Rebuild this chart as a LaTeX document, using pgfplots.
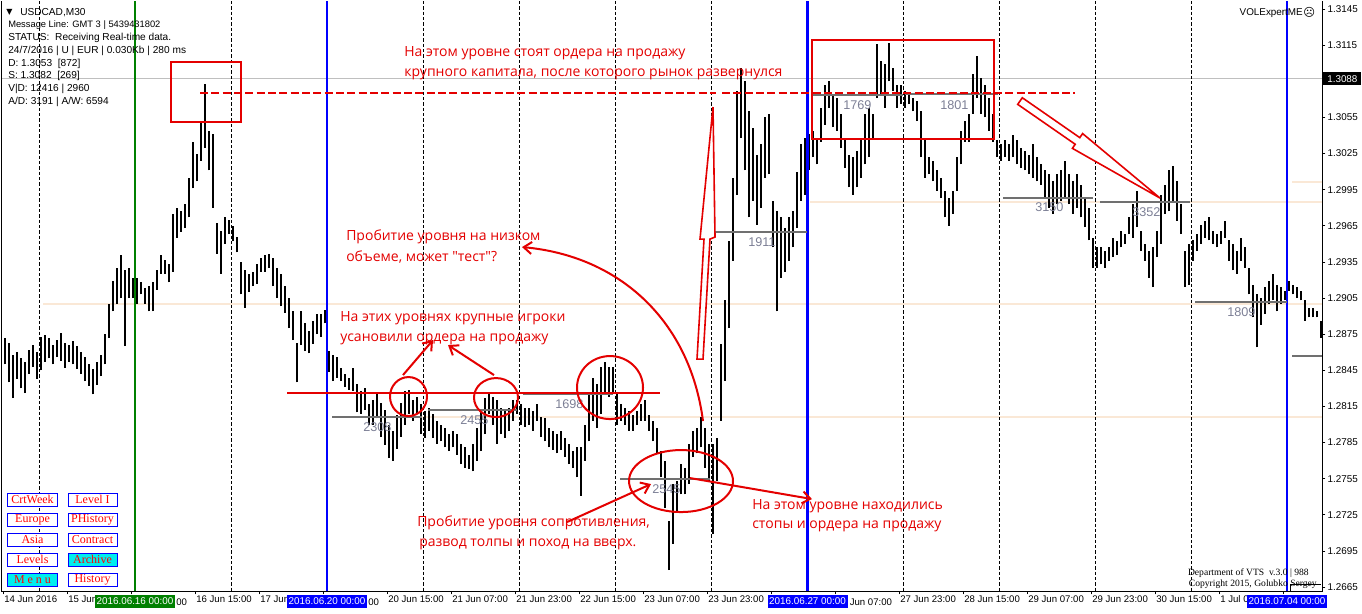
\documentclass[border=0pt]{standalone}
\usepackage{fontspec}
\setmainfont{Liberation Sans}
\newfontfamily\annfont{Open Sans}
\newfontfamily\serfont{Liberation Serif}
\newfontfamily\symfont{DejaVu Sans}
\usepackage{pgfplots}
\usepackage{pgfplotstable}
\pgfplotsset{compat=1.18}
\usetikzlibrary{arrows.meta}
\definecolor{annred}{RGB}{228,0,0}
\definecolor{mtblue}{RGB}{0,0,255}
\definecolor{mtgreen}{RGB}{0,128,0}
\definecolor{beige}{RGB}{250,232,214}
\definecolor{lvlgray}{RGB}{112,112,112}
\definecolor{lvltext}{RGB}{125,128,150}
\definecolor{btncyan}{RGB}{0,238,238}
\newcommand\fs[1]{\fontsize{#1}{#1}\selectfont}

% hourly bars: h = trading hours from 2016.06.20 00:00, low, high
\pgfplotstableread{
h lo hi
-81 1.2850 1.2872
-80 1.2835 1.2868
-79 1.2822 1.2858
-78 1.2838 1.2860
-77 1.2830 1.2855
-76 1.2826 1.2852
-75 1.2842 1.2862
-74 1.2848 1.2866
-73 1.2838 1.2860
-72 1.2845 1.2873
-71 1.2852 1.2874
-70 1.2855 1.2872
-69 1.2850 1.2866
-68 1.2856 1.2870
-67 1.2853 1.2876
-66 1.2847 1.2868
-65 1.2852 1.2866
-64 1.2850 1.2869
-63 1.2846 1.2865
-62 1.2842 1.2860
-61 1.2836 1.2856
-60 1.2832 1.2850
-59 1.2825 1.2846
-58 1.2833 1.2852
-57 1.2840 1.2858
-56 1.2850 1.2875
-55 1.2872 1.2900
-54 1.2894 1.2919
-53 1.2900 1.2930
-52 1.2905 1.2941
-51 1.2865 1.2928
-50 1.2905 1.2930
-49 1.2905 1.2922
-48 1.2900 1.2922
-47 1.2908 1.2918
-46 1.2900 1.2913
-45 1.2894 1.2915
-44 1.2894 1.2918
-43 1.2912 1.2928
-42 1.2925 1.2941
-41 1.2925 1.2937
-40 1.2918 1.2933
-39 1.2927 1.2975
-38 1.2955 1.2980
-37 1.2960 1.2977
-36 1.2963 1.2983
-35 1.2972 1.3005
-34 1.2996 1.3035
-33 1.3002 1.3025
-32 1.3019 1.3052
-31 1.3030 1.3083
-30 1.3011 1.3044
-29 1.2980 1.3041
-28 1.2942 1.2967
-27 1.2925 1.2961
-26 1.2950 1.2972
-25 1.2958 1.2970
-24 1.2952 1.2965
-23 1.2943 1.2956
-22 1.2908 1.2935
-21 1.2897 1.2928
-20 1.2910 1.2925
-19 1.2915 1.2927
-18 1.2917 1.2933
-17 1.2927 1.2938
-16 1.2927 1.2941
-15 1.2930 1.2942
-14 1.2915 1.2938
-13 1.2905 1.2930
-12 1.2898 1.2925
-11 1.2893 1.2915
-10 1.2880 1.2905
-9 1.2870 1.2894
-8 1.2835 1.2868
-7 1.2866 1.2894
-6 1.2861 1.2884
-5 1.2859 1.2878
-4 1.2867 1.2886
-3 1.2875 1.2892
-2 1.2873 1.2892
-1 1.2884 1.2895
0 1.2844 1.2861
1 1.2836 1.2858
2 1.2839 1.2856
3 1.2836 1.2847
4 1.2831 1.2842
5 1.2829 1.2839
6 1.2828 1.2847
7 1.2810 1.2834
8 1.2809 1.2828
9 1.2812 1.2830
10 1.2800 1.2817
11 1.2800 1.2820
12 1.2805 1.2826
13 1.2790 1.2818
14 1.2783 1.2812
15 1.2772 1.2800
16 1.2770 1.2795
17 1.2780 1.2808
18 1.2790 1.2818
19 1.2800 1.2828
20 1.2809 1.2829
21 1.2803 1.2820
22 1.2809 1.2823
23 1.2792 1.2817
24 1.2789 1.2811
25 1.2795 1.2814
26 1.2789 1.2809
27 1.2784 1.2803
28 1.2786 1.2800
29 1.2781 1.2797
30 1.2778 1.2792
31 1.2781 1.2795
32 1.2775 1.2792
33 1.2767 1.2784
34 1.2764 1.2781
35 1.2763 1.2775
36 1.2761 1.2784
37 1.2770 1.2797
38 1.2778 1.2811
39 1.2792 1.2822
40 1.2809 1.2827
41 1.2800 1.2823
42 1.2784 1.2820
43 1.2792 1.2814
44 1.2789 1.2811
45 1.2795 1.2814
46 1.2803 1.2820
47 1.2809 1.2820
48 1.2800 1.2817
49 1.2798 1.2814
50 1.2800 1.2814
51 1.2795 1.2811
52 1.2803 1.2817
53 1.2790 1.2806
54 1.2786 1.2805
55 1.2781 1.2797
56 1.2779 1.2795
57 1.2776 1.2792
58 1.2779 1.2795
59 1.2773 1.2789
60 1.2767 1.2784
61 1.2764 1.2778
62 1.2756 1.2781
63 1.2741 1.2781
64 1.2770 1.2800
65 1.2786 1.2825
66 1.2803 1.2839
67 1.2797 1.2834
68 1.2809 1.2848
69 1.2825 1.2852
70 1.2823 1.2848
71 1.2825 1.2848
72 1.2800 1.2825
73 1.2803 1.2817
74 1.2800 1.2814
75 1.2795 1.2811
76 1.2795 1.2808
77 1.2800 1.2811
78 1.2803 1.2817
79 1.2803 1.2820
80 1.2795 1.2808
81 1.2786 1.2803
82 1.2776 1.2797
83 1.2756 1.2778
84 1.2731 1.2770
85 1.2679 1.2720
86 1.2701 1.2751
87 1.2728 1.2753
88 1.2742 1.2767
89 1.2742 1.2764
90 1.2751 1.2784
91 1.2773 1.2795
92 1.2776 1.2797
93 1.2781 1.2806
94 1.2764 1.2797
95 1.2753 1.2784
96 1.2709 1.2784
97 1.2753 1.2789
98 1.2803 1.2867
99 1.2836 1.2903
100 1.2880 1.2952
101 1.2936 1.3005
102 1.2991 1.3077
103 1.3038 1.3096
104 1.3011 1.3085
105 1.2972 1.3060
106 1.2986 1.3046
107 1.2966 1.3024
108 1.2980 1.3033
109 1.3005 1.3055
110 1.3008 1.3058
111 1.2947 1.2986
112 1.2894 1.2977
113 1.2922 1.2972
114 1.2927 1.2963
115 1.2936 1.2972
116 1.2947 1.2977
117 1.2963 1.3010
118 1.2986 1.3033
119 1.2991 1.3038
120 1.3011 1.3041
121 1.3022 1.3044
122 1.3016 1.3038
123 1.3035 1.3063
124 1.3049 1.3082
125 1.3063 1.3085
126 1.3047 1.3074
127 1.3044 1.3071
128 1.3030 1.3058
129 1.3013 1.3038
130 1.2997 1.3024
131 1.2991 1.3022
132 1.2997 1.3027
133 1.3005 1.3038
134 1.3016 1.3058
135 1.3022 1.3063
136 1.3038 1.3058
137 1.3071 1.3116
138 1.3074 1.3102
139 1.3063 1.3099
140 1.3085 1.3117
141 1.3077 1.3096
142 1.3063 1.3082
143 1.3066 1.3082
144 1.3063 1.3077
145 1.3066 1.3074
146 1.3060 1.3071
147 1.3052 1.3069
148 1.3022 1.3060
149 1.3005 1.3038
150 1.3008 1.3022
151 1.3002 1.3019
152 1.2994 1.3011
153 1.2988 1.3005
154 1.2972 1.2994
155 1.2965 1.2988
156 1.2975 1.2994
157 1.2994 1.3022
158 1.3016 1.3044
159 1.3035 1.3052
160 1.3035 1.3058
161 1.3058 1.3091
162 1.3071 1.3106
163 1.3058 1.3088
164 1.3055 1.3082
165 1.3044 1.3071
166 1.3035 1.3058
167 1.3022 1.3036
168 1.3019 1.3033
169 1.3022 1.3036
170 1.3019 1.3033
171 1.3022 1.3040
172 1.3016 1.3036
173 1.3013 1.3030
174 1.3011 1.3027
175 1.3008 1.3024
176 1.3005 1.3033
177 1.3002 1.3022
178 1.2999 1.3016
179 1.2988 1.3011
180 1.2980 1.3008
181 1.2975 1.3002
182 1.2983 1.3008
183 1.2986 1.3011
184 1.2988 1.3019
185 1.2983 1.3008
186 1.2975 1.3002
187 1.2980 1.3008
188 1.2972 1.2999
189 1.2964 1.2988
190 1.2953 1.2980
191 1.2930 1.2955
192 1.2930 1.2947
193 1.2933 1.2947
194 1.2930 1.2944
195 1.2936 1.2947
196 1.2939 1.2955
197 1.2941 1.2952
198 1.2947 1.2961
199 1.2950 1.2958
200 1.2958 1.2972
201 1.2955 1.2983
202 1.2964 1.2994
203 1.2944 1.2961
204 1.2936 1.2950
205 1.2922 1.2944
206 1.2914 1.2947
207 1.2939 1.2961
208 1.2950 1.2991
209 1.2975 1.2999
210 1.2977 1.3011
211 1.2986 1.3015
212 1.2969 1.3002
213 1.2958 1.2983
214 1.2914 1.2944
215 1.2916 1.2950
216 1.2936 1.2953
217 1.2944 1.2958
218 1.2950 1.2966
219 1.2955 1.2969
220 1.2953 1.2972
221 1.2950 1.2961
222 1.2947 1.2958
223 1.2950 1.2961
224 1.2955 1.2969
225 1.2936 1.2953
226 1.2928 1.2950
227 1.2925 1.2944
228 1.2936 1.2955
229 1.2930 1.2947
230 1.2908 1.2930
231 1.2889 1.2916
232 1.2864 1.2908
233 1.2883 1.2905
234 1.2892 1.2914
235 1.2900 1.2919
236 1.2903 1.2925
237 1.2894 1.2916
238 1.2900 1.2914
239 1.2903 1.2911
240 1.2911 1.2919
241 1.2908 1.2916
242 1.2905 1.2914
243 1.2903 1.2911
244 1.2886 1.2903
245 1.2889 1.2897
246 1.2889 1.2897
247 1.2889 1.2894
248 1.2872 1.2886
}\bars

\begin{document}
\begin{tikzpicture}
% pixel frame of the terminal window: (x,y) = screen pixels
\begin{scope}[x=0.75pt,y=-0.75pt,shift={(-1.5pt,442.5pt)}]
\path[use as bounding box, fill=white] (0,0) rectangle (1362,612);
% support/resistance shading lines
\draw[beige, line width=1.5pt] (43,302.5) -- (1322,302.5);
\draw[beige, line width=1.5pt] (332,416) -- (1322,416);
\draw[beige, line width=1.5pt] (810,200.5) -- (1322,200.5);
\draw[beige, line width=1.5pt] (1292,181) -- (1322,181);
\draw[black!25, line width=0.75pt] (2,77.5) -- (1322,77.5);
% day separators
\foreach \px in {39,231,423,519,615,711,903,999,1095,1191}
  \draw[black, line width=0.75pt, dash pattern=on 2.5pt off 1.5pt] (\px,0) -- (\px,590);
\end{scope}

\begin{axis}[
  scale only axis, width=990pt, height=442.5pt,
  xmin=-81.25, xmax=248.75, ymin=1.266169, ymax=1.315164,
  axis line style={draw=none},
  xtick pos=bottom, ytick pos=right, yticklabel pos=right,
  tick align=outside, major tick length=2.5pt,
  tick style={black, line width=0.6pt},
  scaled y ticks=false,
  ytick={1.2665,1.2695,1.2725,1.2755,1.2785,1.2815,1.2845,1.2875,1.2905,1.2935,1.2965,1.2995,1.3025,1.3055,1.3115,1.3145},
  yticklabel style={/pgf/number format/.cd, fixed, fixed zerofill, precision=4, assume math mode=true, /tikz/.cd, font=\fs{7.4}, anchor=west, inner sep=0pt, xshift=1.5pt},
  xtick={-81,-65,-49,-33,-17,-1,15,31,47,63,79,95,111,127,143,159,175,191,207,223,239},
  xticklabels={{14 Jun 2016},{15 Jun},{},{16 Jun 15:00},{17 Jun},{},{20 Jun 15:00},{21 Jun 07:00},{21 Jun 23:00},{22 Jun 15:00},{23 Jun 07:00},{23 Jun 23:00},{},{},{27 Jun 23:00},{28 Jun 15:00},{29 Jun 07:00},{29 Jun 23:00},{30 Jun 15:00},{1 Jul 0},{}},
  xticklabel style={font=\fs{7.2}, anchor=north west, inner sep=0pt, xshift=0.8pt, yshift=-1pt},
]
\addplot[black, line width=1.25pt, quiver={u=0, v=\thisrow{hi}-\thisrow{lo}}]
  table[x expr=\thisrow{h}+0.5, y=lo] {\bars};
\end{axis}

\begin{scope}[x=0.75pt,y=-0.75pt,shift={(-1.5pt,442.5pt)}]
% frame
\draw[black, line width=0.75pt] (2,0) -- (2,590) -- (1322,590) -- (1322,0);
% week / session lines
\draw[mtgreen, line width=1.6pt] (135,0) -- (135,590);
\foreach \px in {327,807.5,1287}
  \draw[mtblue, line width=1.6pt] (\px,0) -- (\px,590);
% volume levels
\foreach \a/\b/\yy in {332/422/415.5, 428/517/409, 523/613/393, 620/710/478, 715/807/231, 812/903/94, 905/998/93, 1003/1093/197, 1100/1190/200.5, 1195/1287/301, 1292/1322/355}
  \draw[lvlgray, line width=1.5pt] (\a,\yy) -- (\b,\yy);
\foreach \xx/\yy/\t in {363/430/2308, 460/423/2455, 555/407/1698, 652/492/2545, 748/245/1911, 843/108/1769, 940/108/1801, 1035/210/3150, 1132/215/3352, 1227/315/1809}
  \node[anchor=base west, inner sep=0pt, text=lvltext, font=\fs{9.5}] at (\xx,\yy) {\t};
% header text
\node[anchor=base west, inner sep=0pt, font=\symfont\fs{6}] at (6,13) {▼};
\node[anchor=base west, inner sep=0pt, font=\fs{7.6}] at (20,14) {USDCAD,M30};
\node[anchor=base west, inner sep=0pt, font=\fs{7}] at (8,26.5) {Message Line: GMT 3 | 5439431802};
\node[anchor=base west, inner sep=0pt, font=\fs{7.6}] at (8,39) {STATUS:\ \ Receiving Real-time data.};
\node[anchor=base west, inner sep=0pt, font=\fs{7.6}] at (8,52) {24/7/2016 | U | EUR | 0.030Kb | 280 ms};
\node[anchor=base west, inner sep=0pt, font=\fs{7.6}] at (8,65) {D: 1.3053\ \ [872]};
\node[anchor=base west, inner sep=0pt, font=\fs{7.6}] at (8,77.5) {S: 1.3082\ \ [269]};
\node[anchor=base west, inner sep=0pt, font=\fs{7.6}] at (8,90.5) {V|D: 12416 | 2960};
\node[anchor=base west, inner sep=0pt, font=\fs{7.6}] at (8,103) {A/D: 3191 | A/W: 6594};
\node[anchor=base east, inner sep=0pt, font=\fs{7.4}] at (1303,14) {VOLExpertME};
\node[anchor=base west, inner sep=0pt, font=\symfont\fs{8.5}] at (1303,15) {☹};
% current price
\fill[black] (1323,71) rectangle (1361,84);
\node[anchor=base west, inner sep=0pt, text=white, font=\fs{7.4}] at (1327,81.5) {1.3088};
% copyright
\node[anchor=base east, inner sep=0pt, font=\serfont\fs{7.2}] at (1309,574) {Department of VTS\ \ v.3.0 | 988};
\node[anchor=base east, inner sep=0pt, font=\serfont\fs{7.2}] at (1317,585) {Copyright 2015, Golubko Sergey};
\draw[black, line width=0.5pt] (1290,583) -- (1290,590) (1290,583) -- (1321,583);
% menu buttons
\foreach \xx/\yy/\t/\c in {8/492/CrtWeek/white, 68/492/Level I/white, 8/512/Europe/white, 68/512/PHistory/white, 8/532/Asia/white, 68/532/Contract/white, 8/552/Levels/white, 68/552/Archive/btncyan, 8/572/M e n u/btncyan, 68/572/History/white}
  \draw[mtblue, fill=\c, line width=0.75pt] (\xx,\yy) rectangle ++(49,13)
    node[midway, text=red, font=\serfont\fs{9}, inner sep=0pt] {\t};
% date flags, with the ends of the time labels they cover
\foreach \xa/\t/\c in {95/2016.06.16 00:00/mtgreen, 287/2016.06.20 00:00/mtblue, 767.5/2016.06.27 00:00/mtblue, 1247/2016.07.04 00:00/mtblue}
  \fill[\c] (\xa,594) rectangle ++(80,13) node[midway, text=white, font=\fs{7.4}, inner sep=0pt] {\t};
\node[anchor=base west, inner sep=0pt, font=\fs{7.2}] at (176,604) {00};
\node[anchor=base west, inner sep=0pt, font=\fs{7.2}] at (368,604) {00};
\node[anchor=base west, inner sep=0pt, font=\fs{7.2}] at (849.5,604) {Jun 07:00};
% annotations
\begin{scope}[annred, line width=1.5pt]
\draw (170.5,60.5) rectangle (241,121);
\draw (811.5,39) rectangle (994,137.5);
\draw[dash pattern=on 6pt off 2.5pt] (200,91.5) -- (716,91.5) (722,92) -- (1075,92);
\draw (287,391.5) -- (660,391.5);
\draw (408.5,395.5) ellipse [x radius=18.5, y radius=19.5];
\draw (496,396.5) ellipse [x radius=22, y radius=19.5];
\draw (610,386.5) ellipse [x radius=33, y radius=31.5];
\draw (681,480) ellipse [x radius=52, y radius=31];
\draw[fill=white, line width=1.2pt] (697,358) -- (703,358) -- (710,238) -- (715,236) -- (713,106) -- (700,238) -- (704,238) -- cycle;
\draw[fill=white, line width=1.2pt] (1022.3,96.7) -- (1079.8,136.6) -- (1082.6,132.5) -- (1160,197) -- (1072.4,147.3) -- (1075.2,143.2) -- (1017.7,103.3) -- cycle;
\draw[-{Straight Barb[length=6pt,width=9pt]}] (403,374) -- (433,339);
\draw[-{Straight Barb[length=6pt,width=9pt]}] (494,374) -- (448,344);
\draw[-{Straight Barb[length=6pt,width=9pt]}] (567,521) -- (651,483);
\draw[-{Straight Barb[length=6pt,width=9pt]}] (690,477) -- (812,498);
\draw[-{Straight Barb[length=6pt,width=9pt]}] (703,420) .. controls (690,320) and (620,255) .. (522,246);
\end{scope}
\begin{scope}[every node/.style={anchor=base west, inner sep=0pt, text=annred, font=\annfont\fs{10.5}}]
\node at (404,55) {На этом уровне стоят ордера на продажу};
\node at (404,75) {крупного капитала, после которого рынок развернулся};
\node at (346,239.5) {Пробитие уровня на низком};
\node at (346,260) {объеме, может "тест"?};
\node at (340,320) {На этих уровнях крупные игроки};
\node at (340,340) {усановили ордера на продажу};
\node at (417,525) {Пробитие уровня сопротивления,};
\node at (419,545) {развод толпы и поход на вверх.};
\node at (752,508) {На этом уровне находились};
\node at (752,527.5) {стопы и ордера на продажу};
\end{scope}
\end{scope}
\end{tikzpicture}
\end{document}
